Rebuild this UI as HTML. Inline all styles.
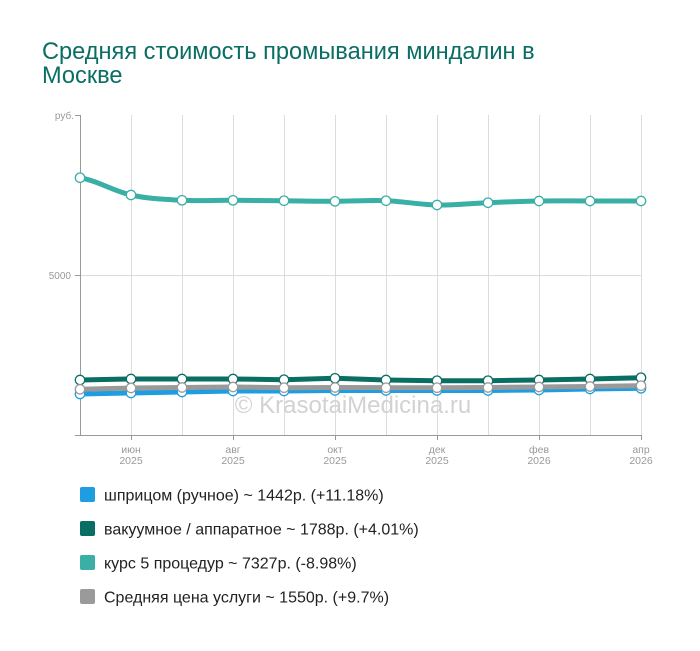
<!DOCTYPE html>
<html>
<head>
<meta charset="utf-8">
<style>
  html, body { margin:0; padding:0; background:#fff; }
  body { width:700px; height:646px; overflow:hidden; font-family:"Liberation Sans", Arial, sans-serif; }
</style>
</head>
<body>
<svg width="700" height="646" viewBox="0 0 700 646" xmlns="http://www.w3.org/2000/svg" font-family="Liberation Sans, Arial, sans-serif">
  <rect width="700" height="646" fill="#fff"/>
  <!-- Title -->
  <text x="42" y="59" font-size="23.6" fill="#0a6e64">Средняя стоимость промывания миндалин в</text>
  <text x="42" y="83" font-size="23.6" fill="#0a6e64">Москве</text>

  <!-- grid -->
  <g stroke="#dcdcdc" stroke-width="1">
    <line x1="131.5" y1="115" x2="131.5" y2="435"/>
    <line x1="182.5" y1="115" x2="182.5" y2="435"/>
    <line x1="233.5" y1="115" x2="233.5" y2="435"/>
    <line x1="284.5" y1="115" x2="284.5" y2="435"/>
    <line x1="335.5" y1="115" x2="335.5" y2="435"/>
    <line x1="386.5" y1="115" x2="386.5" y2="435"/>
    <line x1="437.5" y1="115" x2="437.5" y2="435"/>
    <line x1="488.5" y1="115" x2="488.5" y2="435"/>
    <line x1="539.5" y1="115" x2="539.5" y2="435"/>
    <line x1="590.5" y1="115" x2="590.5" y2="435"/>
    <line x1="641.5" y1="115" x2="641.5" y2="435"/>
    <line x1="80" y1="275.5" x2="641" y2="275.5"/>
  </g>

  <!-- axes -->
  <g stroke="#999" stroke-width="1">
    <line x1="80.5" y1="115" x2="80.5" y2="435"/>
    <line x1="75" y1="435.5" x2="642" y2="435.5"/>
    <line x1="75" y1="115.5" x2="80" y2="115.5"/>
    <line x1="75" y1="275.5" x2="80" y2="275.5"/>
    <line x1="131.5" y1="435" x2="131.5" y2="440"/>
    <line x1="233.5" y1="435" x2="233.5" y2="440"/>
    <line x1="335.5" y1="435" x2="335.5" y2="440"/>
    <line x1="437.5" y1="435" x2="437.5" y2="440"/>
    <line x1="539.5" y1="435" x2="539.5" y2="440"/>
    <line x1="641.5" y1="435" x2="641.5" y2="440"/>
  </g>

  <!-- y labels -->
  <g font-size="10" fill="#999" text-anchor="end">
    <text x="74" y="119">руб.</text>
    <text x="71" y="279">5000</text>
  </g>

  <!-- x labels -->
  <g font-size="10.5" fill="#999" text-anchor="middle">
    <text x="131" y="453">июн</text><text x="131" y="464">2025</text>
    <text x="233" y="453">авг</text><text x="233" y="464">2025</text>
    <text x="335" y="453">окт</text><text x="335" y="464">2025</text>
    <text x="437" y="453">дек</text><text x="437" y="464">2025</text>
    <text x="539" y="453">фев</text><text x="539" y="464">2026</text>
    <text x="641" y="453">апр</text><text x="641" y="464">2026</text>
  </g>

  <!-- watermark -->
  <text x="353" y="413" font-size="24" fill="#d2d2d2" text-anchor="middle">© KrasotaiMedicina.ru</text>

  <!-- series lines -->
  <g fill="none" stroke-width="5" stroke-linejoin="round" stroke-linecap="round">
    <path stroke="#3aafa5" d="M80,177.7 C97,180.6 114,191.2 131,195 C148,198.8 165,199.4 182,200.3 C199,201.2 216,200.2 233,200.3 C250,200.4 267,200.5 284,200.7 C301,200.9 318,201.3 335,201.3 C352,201.3 369,200.1 386,200.7 C403,201.3 420,204.7 437,205 C454,205.3 471,203.4 488,202.7 C505,202 522,201.3 539,201 C556,200.7 573,201 590,201 C607,201 624,201 641,201"/>
    <polyline stroke="#1e9ee0" points="80,394 131,393 182,392 233,391 284,391 335,390.5 386,390.5 437,390.5 488,390.5 539,390 590,389 641,388.3"/>
    <polyline stroke="#0a6e64" points="80,380 131,379 182,379 233,379 284,379.7 335,378.3 386,380 437,380.7 488,380.7 539,380 590,379 641,377.7"/>
    <polyline stroke="#9a9a9a" points="80,389.3 131,388 182,387.5 233,387 284,387.7 335,387.5 386,387.7 437,387.7 488,387.5 539,387 590,386.5 641,385.7"/>
  </g>

  <!-- markers -->
  <g fill="#fff" stroke-width="1.3">
    <g stroke="#3aafa5">
      <circle cx="80" cy="177.7" r="4.7"/><circle cx="131" cy="195" r="4.7"/><circle cx="182" cy="200.3" r="4.7"/><circle cx="233" cy="200.3" r="4.7"/><circle cx="284" cy="200.7" r="4.7"/><circle cx="335" cy="201.3" r="4.7"/><circle cx="386" cy="200.7" r="4.7"/><circle cx="437" cy="205" r="4.7"/><circle cx="488" cy="202.7" r="4.7"/><circle cx="539" cy="201" r="4.7"/><circle cx="590" cy="201" r="4.7"/><circle cx="641" cy="201" r="4.7"/>
    </g>
    <g stroke="#1e9ee0">
      <circle cx="80" cy="394" r="4.7"/><circle cx="131" cy="393" r="4.7"/><circle cx="182" cy="392" r="4.7"/><circle cx="233" cy="391" r="4.7"/><circle cx="284" cy="391" r="4.7"/><circle cx="335" cy="390.5" r="4.7"/><circle cx="386" cy="390.5" r="4.7"/><circle cx="437" cy="390.5" r="4.7"/><circle cx="488" cy="390.5" r="4.7"/><circle cx="539" cy="390" r="4.7"/><circle cx="590" cy="389" r="4.7"/><circle cx="641" cy="388.3" r="4.7"/>
    </g>
    <g stroke="#0a6e64">
      <circle cx="80" cy="380" r="4.7"/><circle cx="131" cy="379" r="4.7"/><circle cx="182" cy="379" r="4.7"/><circle cx="233" cy="379" r="4.7"/><circle cx="284" cy="379.7" r="4.7"/><circle cx="335" cy="378.3" r="4.7"/><circle cx="386" cy="380" r="4.7"/><circle cx="437" cy="380.7" r="4.7"/><circle cx="488" cy="380.7" r="4.7"/><circle cx="539" cy="380" r="4.7"/><circle cx="590" cy="379" r="4.7"/><circle cx="641" cy="377.7" r="4.7"/>
    </g>
    <g stroke="#9a9a9a">
      <circle cx="80" cy="389.3" r="4.7"/><circle cx="131" cy="388" r="4.7"/><circle cx="182" cy="387.5" r="4.7"/><circle cx="233" cy="387" r="4.7"/><circle cx="284" cy="387.7" r="4.7"/><circle cx="335" cy="387.5" r="4.7"/><circle cx="386" cy="387.7" r="4.7"/><circle cx="437" cy="387.7" r="4.7"/><circle cx="488" cy="387.5" r="4.7"/><circle cx="539" cy="387" r="4.7"/><circle cx="590" cy="386.5" r="4.7"/><circle cx="641" cy="385.7" r="4.7"/>
    </g>
  </g>

  <!-- legend -->
  <g>
    <rect x="80" y="487" width="15" height="15" rx="2" fill="#1e9ee0"/>
    <rect x="80" y="521" width="15" height="15" rx="2" fill="#0a6e64"/>
    <rect x="80" y="555" width="15" height="15" rx="2" fill="#3aafa5"/>
    <rect x="80" y="589" width="15" height="15" rx="2" fill="#9a9a9a"/>
  </g>
  <g font-size="16" fill="#222">
    <text x="104" y="500.5">шприцом (ручное) ~ 1442р. (+11.18%)</text>
    <text x="104" y="534.5">вакуумное / аппаратное ~ 1788р. (+4.01%)</text>
    <text x="104" y="568.5">курс 5 процедур ~ 7327р. (-8.98%)</text>
    <text x="104" y="602.5">Средняя цена услуги ~ 1550р. (+9.7%)</text>
  </g>
</svg>
</body>
</html>
